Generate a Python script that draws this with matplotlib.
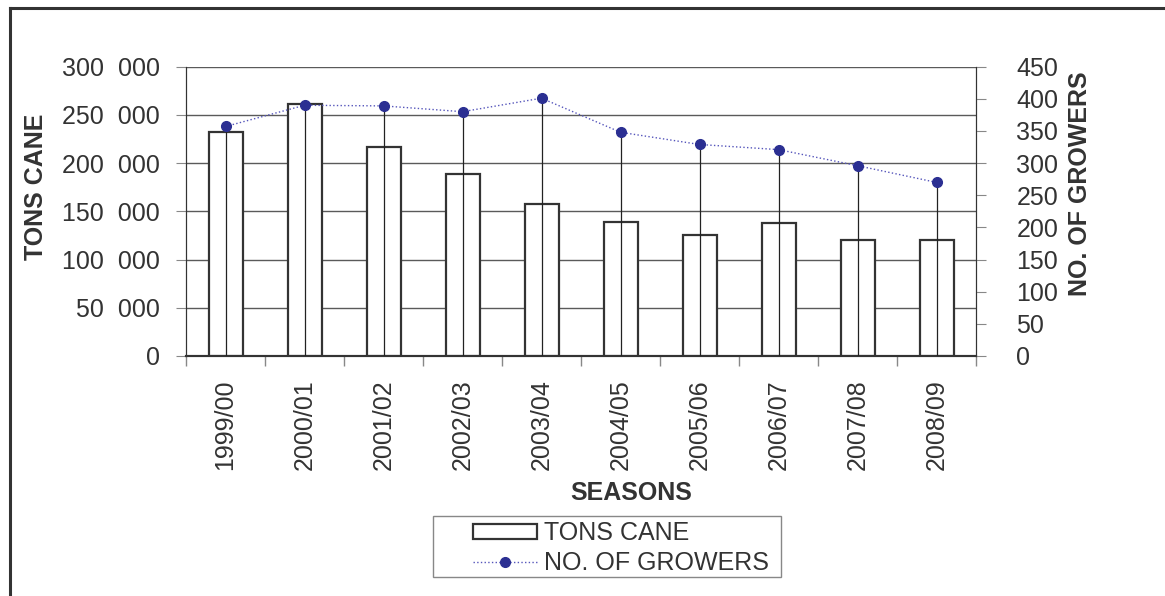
import matplotlib.pyplot as plt
import matplotlib.lines as mlines
import matplotlib.patches as mpatches
from matplotlib.ticker import FuncFormatter, FixedLocator

plt.rcParams['font.family'] = ['Liberation Sans', 'DejaVu Sans']

# dados
seasons = ['1999/00', '2000/01', '2001/02', '2002/03', '2003/04',
           '2004/05', '2005/06', '2006/07', '2007/08', '2008/09']
tons_cane = [232000, 261000, 217000, 189000, 157500,
             139000, 125500, 137500, 120500, 120000]
growers = [357, 390, 389, 380, 401, 348, 329, 321, 296, 270]

txt = '#333333'
fs = 18
W, H = 1165, 596

fig = plt.figure(figsize=(11.65, 5.96), dpi=100)
ax = fig.add_axes([0.1597, 0.4027, 0.6781, 0.4854])
ax2 = ax.twinx()

x = list(range(len(seasons)))

# barras (toneladas de cana)
ax.bar(x, tons_cane, width=0.43, color='white', edgecolor='#333333',
       linewidth=1.6, zorder=3)
ax.set_ylim(0, 300000)
ax.set_xlim(-0.5, len(seasons) - 0.5)
ax.set_yticks(range(0, 300001, 50000))
ax.yaxis.set_major_formatter(FuncFormatter(
    lambda v, p: '0' if v == 0 else f'{int(v) // 1000}  {int(v) % 1000:03d}'))
ax.grid(axis='y', color='#5a5a5a', linewidth=1.0, zorder=0)
ax.set_axisbelow(True)

# linha (número de produtores) com linhas de queda
ax2.set_ylim(0, 450)
ax2.vlines(x, 0, growers, color='#222222', linewidth=0.9, zorder=4)
ax2.plot(x, growers, color='#5555bb', linestyle=':', linewidth=1.0,
         marker='o', markersize=7, markerfacecolor='#2b2f92',
         markeredgecolor='#2b2f92', zorder=5)
ax2.set_yticks(range(0, 451, 50))

# eixo x: rótulos no centro, marcas nas fronteiras
ax.set_xticks(x)
ax.set_xticklabels(seasons, rotation=90)
ax.xaxis.set_minor_locator(FixedLocator([i - 0.5 for i in range(len(seasons) + 1)]))
ax.tick_params(axis='x', which='major', length=0, pad=17, labelsize=fs, labelcolor=txt)
ax.tick_params(axis='x', which='minor', length=7, color='#888888', width=1)
ax.tick_params(axis='y', length=7, color='#888888', pad=12, labelsize=fs, labelcolor=txt)
ax2.tick_params(axis='y', length=7, color='#888888', pad=22, labelsize=fs, labelcolor=txt)
for lbl in ax2.get_yticklabels():
    lbl.set_horizontalalignment('left')

for a in (ax, ax2):
    a.spines['top'].set_visible(False)
    a.spines['left'].set_color('#333333')
    a.spines['right'].set_color('#333333')
    a.spines['bottom'].set_color('#333333')
    a.spines['bottom'].set_linewidth(1.5)

# títulos dos eixos
fig.text(36 / W, 1 - 187 / H, 'TONS CANE', rotation=90, ha='center', va='center',
         fontsize=fs, fontweight='bold', color=txt)
fig.text(1080 / W, 1 - 184 / H, 'NO. OF GROWERS', rotation=90, ha='center', va='center',
         fontsize=fs, fontweight='bold', color=txt)
fig.text(631 / W, 1 - 493 / H, 'SEASONS', ha='center', va='center',
         fontsize=fs, fontweight='bold', color=txt)

# legenda
h_bar = mpatches.Rectangle((0, 0), 1, 1, facecolor='white', edgecolor='#333333', linewidth=1.6)
h_line = mlines.Line2D([], [], color='#5555bb', linestyle=':', linewidth=1.0,
                       marker='o', markersize=7, markerfacecolor='#2b2f92',
                       markeredgecolor='#2b2f92')
leg = fig.legend([h_bar, h_line], ['TONS CANE', 'NO. OF GROWERS'],
                 loc='center left', bbox_to_anchor=(473 / W, 1 - 548 / H),
                 fontsize=fs, frameon=False,
                 handlelength=2.56, handleheight=0.56, handletextpad=0.28,
                 borderpad=0, labelspacing=0.22, borderaxespad=0)
for t in leg.get_texts():
    t.set_color(txt)
fig.add_artist(mpatches.Rectangle((433 / W, 1 - 577 / H), 348 / W, 61 / H,
                                  transform=fig.transFigure, facecolor='none',
                                  edgecolor='#888888', linewidth=1.0))

# moldura do gráfico (só topo e esquerda visíveis)
fig.add_artist(mlines.Line2D([10 / W, 10 / W], [0, 1 - 8 / H],
                             color='#333333', linewidth=2.2))
fig.add_artist(mlines.Line2D([10 / W, 1], [1 - 8 / H, 1 - 8 / H],
                             color='#333333', linewidth=2.2))

plt.savefig('out.png', dpi=100)
plt.close()
